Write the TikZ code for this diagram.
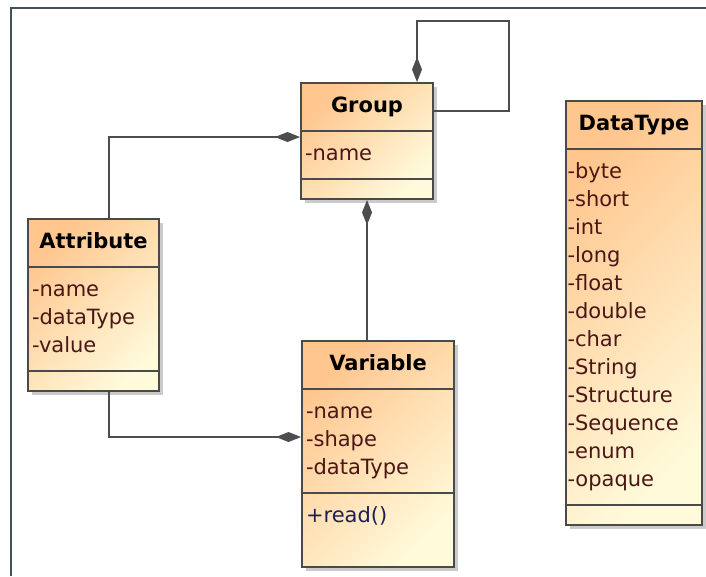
\documentclass[tikz,border=0pt]{standalone}
\usepackage{fontspec}
\setmainfont{DejaVu Sans}
\usetikzlibrary{shapes.multipart,shadows,arrows.meta}

\definecolor{classtop}{HTML}{FFC68E}
\definecolor{classbot}{HTML}{FFFADA}
\definecolor{classline}{HTML}{4A4A4A}
\definecolor{linkline}{HTML}{4D4D4D}
\definecolor{attrtext}{HTML}{4B1616}
\definecolor{opertext}{HTML}{1E1E5A}
\definecolor{framecol}{HTML}{44505F}

\tikzset{
	umlclass/.style={rectangle split, rectangle split parts=3, rectangle split draw splits=false,
			draw=classline, line width=2pt,
			top color=classtop, bottom color=classbot, shading angle=45,
			drop shadow={shadow xshift=4pt, shadow yshift=-4pt, fill=black!40},
			inner xsep=4pt, inner ysep=9pt, align=left, anchor=north west, text=attrtext,
			font=\fontsize{21}{28}\selectfont},
	splitline/.style={draw=classline, line width=2pt},
	compose/.style={draw=linkline, line width=2pt, arrows={Diamond[length=25pt,width=10pt]-}},
}
\newcommand{\classhead}[1]{\hbox to\hsize{\hss\strut\color{black}\textbf{#1}\hss}}

\begin{document}
\begin{tikzpicture}[x=1pt, y=-1pt]
		\fill[white] (0,0) rectangle (706,576);
		\useasboundingbox (0,0) rectangle (706,576);

		% Draw the frame
		\draw[framecol, line width=2pt] (11,576) -- (11,8) -- (706,8);

		% Draw the classes
		\node[umlclass, text width=124pt] (group) at (300,82)
			{\classhead{Group}
			\nodepart{two}\strut-name\strut
			\nodepart{three}};
		\node[umlclass, text width=123pt] (attribute) at (27,218)
			{\classhead{Attribute}
			\nodepart{two}\strut-name\\-dataType\\-value\strut
			\nodepart{three}};
		\node[umlclass, text width=144pt] (variable) at (301,340)
			{\classhead{Variable}
			\nodepart{two}\strut-name\\-shape\\-dataType\strut
			\nodepart{three}\color{opertext}\strut+read()\rule[-34.4pt]{0pt}{0pt}};
		\node[umlclass, text width=133pt, inner xsep=1.5pt] (datatype) at (565,100)
			{\classhead{DataType}
			\nodepart{two}\strut-byte\\-short\\-int\\-long\\-float\\-double\\-char\\-String\\-Structure\\-Sequence\\-enum\\-opaque\strut
			\nodepart{three}};

		% Draw the compartment lines
		\foreach \c in {group, attribute, variable, datatype} {
				\draw[splitline] (\c.text split west) -- (\c.text split east);
				\draw[splitline] (\c.two split west) -- (\c.two split east);
			}

		% Draw composition links (diamond on the whole)
		\draw[compose] ([yshift=-55pt]group.north west) -| ([xshift=82pt]attribute.north west);
		\draw[compose] ([yshift=-97pt]variable.north west) -| ([xshift=82pt]attribute.south west);
		\draw[compose] (group.south) -- (group.south |- variable.north);

		% Self link of Group
		\coordinate (loopcorner) at (509,21);
		\draw[compose] ([xshift=117pt]group.north west) |- (loopcorner) |- ([yshift=-29pt]group.north east);
	\end{tikzpicture}
\end{document}
